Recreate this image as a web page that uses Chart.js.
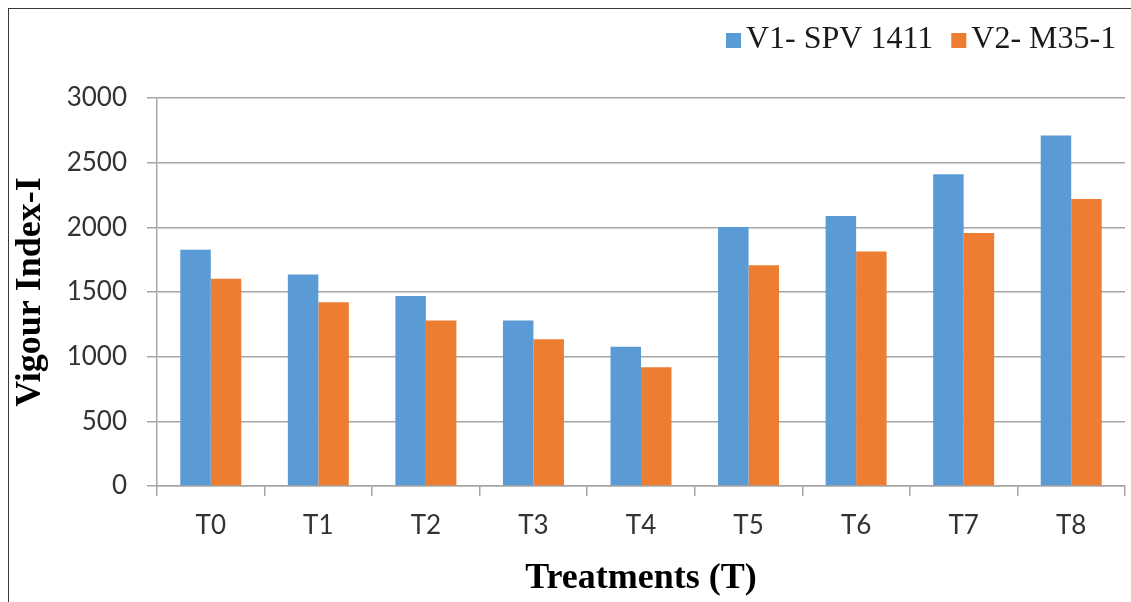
<!DOCTYPE html>
<html>
<head>
<meta charset="utf-8">
<script src="https://cdn.jsdelivr.net/npm/chart.js@4/dist/chart.umd.min.js"></script>
<style>
  html, body { margin: 0; padding: 0; background: #ffffff; }
  #wrap { position: relative; width: 1131px; height: 602px; overflow: hidden; }
  #frame { position: absolute; left: 8px; top: 8px; right: -4px; bottom: -4px;
           border-left: 1.5px solid #3a3a3a; border-top: 1.5px solid #3a3a3a; }
  #chart { position: absolute; left: 0; top: 0; }
</style>
</head>
<body>
<div id="wrap">
  <div id="frame"></div>
  <canvas id="chart" width="1131" height="602"></canvas>
</div>
<script>
// Treatments on the x axis
const treatments = ['T0', 'T1', 'T2', 'T3', 'T4', 'T5', 'T6', 'T7', 'T8'];

// Vigour index per variety
const seriesNames = ['V1- SPV 1411', 'V2- M35-1'];
const v1Values = [1826, 1636, 1469, 1280, 1077, 2003, 2088, 2411, 2711];
const v2Values = [1603, 1421, 1280, 1134, 918, 1707, 1813, 1957, 2219];

// Value axis range
const yMin = 0;
const yMax = 3000;
const yStep = 500;

const axisTitleX = 'Treatments (T)';
const axisTitleY = 'Vigour Index-I';

const BLUE = '#5B9BD5';
const ORANGE = '#ED7D31';
const GRID = '#a6a6a6';
const TICK_FONT = { family: 'Lato', size: 26 };
const TITLE_FONT = { family: 'Liberation Serif', size: 36, weight: 'bold', lineHeight: 1.2 };

// Legend drawn across the top-right, outside the plot area
const topLegend = {
  id: 'topLegend',
  afterDraw(chart) {
    const ctx = chart.ctx;
    ctx.save();
    ctx.font = '32px "Liberation Serif"';
    ctx.textBaseline = 'alphabetic';
    ctx.textAlign = 'left';
    const box = 15;
    const baseline = 48;
    let x = 726;
    chart.data.datasets.forEach((ds) => {
      ctx.fillStyle = ds.backgroundColor;
      ctx.fillRect(x, 33, box, box);
      x += box + 5;
      ctx.fillStyle = '#1a1a1a';
      ctx.fillText(ds.label, x, baseline);
      x += ctx.measureText(ds.label).width + 18;
    });
    ctx.restore();
  }
};

new Chart(document.getElementById('chart'), {
  type: 'bar',
  data: {
    labels: treatments,
    datasets: [
      { label: seriesNames[0], data: v1Values, backgroundColor: BLUE,
        categoryPercentage: 0.567, barPercentage: 1.0 },
      { label: seriesNames[1], data: v2Values, backgroundColor: ORANGE,
        categoryPercentage: 0.567, barPercentage: 1.0 }
    ]
  },
  options: {
    responsive: false,
    animation: false,
    devicePixelRatio: 1,
    layout: { padding: { top: 98, right: 6, bottom: 0, left: 0 } },
    plugins: {
      legend: { display: false },
      tooltip: { enabled: false }
    },
    scales: {
      x: {
        grid: {
          display: true,
          drawOnChartArea: false,
          drawTicks: true,
          tickLength: 10,
          color: GRID,
          lineWidth: 1.5
        },
        border: { display: true, color: GRID, width: 1.5 },
        ticks: { font: TICK_FONT, color: '#333333', padding: 14, maxRotation: 0 },
        title: {
          display: true,
          text: axisTitleX,
          font: TITLE_FONT,
          color: '#000000',
          padding: { top: 0, bottom: 2 }
        },
        afterFit(scale) { scale.height = 116; }
      },
      y: {
        min: yMin,
        max: yMax,
        ticks: {
          stepSize: yStep,
          font: TICK_FONT,
          color: '#333333',
          padding: 20,
          callback: (value) => String(value)
        },
        grid: {
          color: GRID,
          lineWidth: 1.5,
          tickLength: 10
        },
        border: { display: true, color: GRID, width: 1.5 },
        title: {
          display: true,
          text: axisTitleY,
          font: TITLE_FONT,
          color: '#000000',
          padding: { top: 9, bottom: 0 }
        },
        afterFit(scale) { scale.width = 157; }
      }
    }
  },
  plugins: [topLegend]
});
</script>
</body>
</html>
